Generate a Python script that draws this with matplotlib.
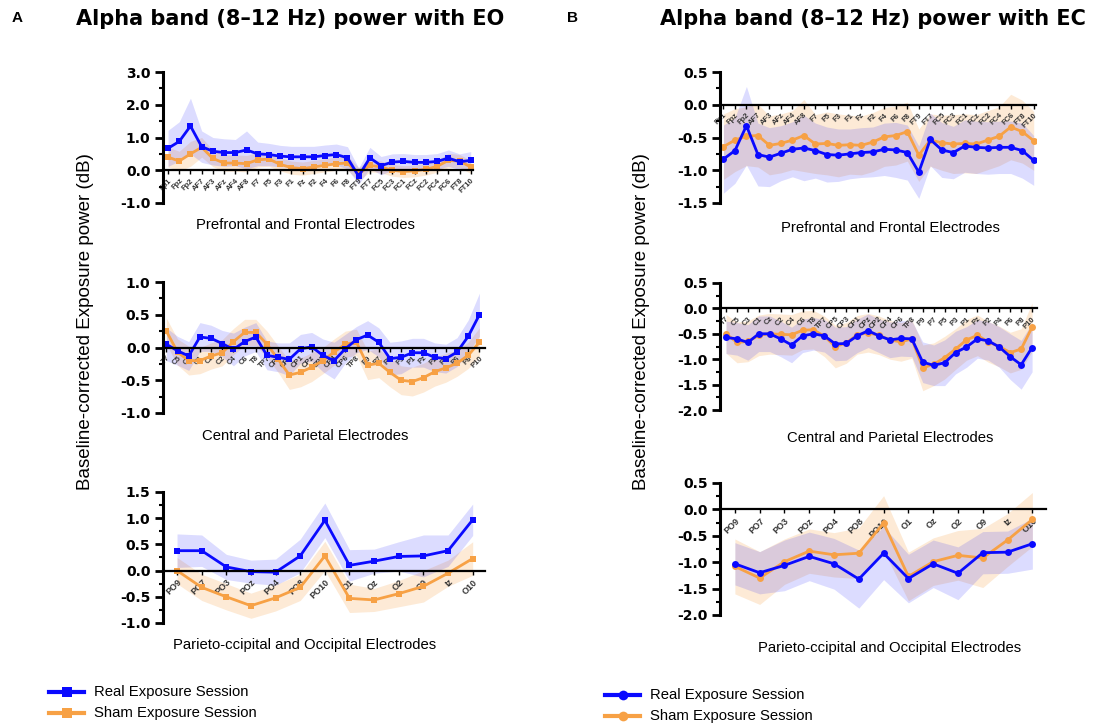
import matplotlib
matplotlib.use('Agg')
import matplotlib.pyplot as plt
from matplotlib.lines import Line2D
from matplotlib.ticker import MultipleLocator, FormatStrFormatter
import numpy as np

plt.rcParams['font.family'] = ['Liberation Sans', 'DejaVu Sans']

# electrode groups
frontal = ['Fp1', 'Fpz', 'Fp2', 'AF7', 'AF3', 'AFz', 'AF4', 'AF8', 'F7', 'F5', 'F3', 'F1', 'Fz', 'F2',
           'F4', 'F6', 'F8', 'FT9', 'FT7', 'FC5', 'FC3', 'FC1', 'FCz', 'FC2', 'FC4', 'FC6', 'FT8', 'FT10']
central = ['T7', 'C5', 'C3', 'C1', 'Cz', 'C2', 'C4', 'C6', 'T8', 'TP7', 'CP5', 'CP3', 'CP1', 'CPz', 'CP2',
           'CP4', 'CP6', 'TP8', 'P9', 'P7', 'P5', 'P3', 'P1', 'Pz', 'P2', 'P4', 'P6', 'P8', 'P10']
occipital = ['PO9', 'PO7', 'PO3', 'POz', 'PO4', 'PO8', 'PO10', 'O1', 'Oz', 'O2', 'O9', 'Iz', 'O10']

# eyes open
eo_front_real = [0.67, 0.88, 1.35, 0.72, 0.58, 0.54, 0.54, 0.62, 0.50, 0.48, 0.43, 0.41, 0.41, 0.41,
                 0.45, 0.48, 0.38, -0.18, 0.38, 0.14, 0.25, 0.27, 0.24, 0.24, 0.27, 0.37, 0.26, 0.30]
eo_front_real_sem = [0.55, 0.60, 0.85, 0.48, 0.42, 0.42, 0.40, 0.58, 0.36, 0.34, 0.33, 0.32, 0.32, 0.32,
                     0.32, 0.32, 0.34, 0.25, 0.32, 0.28, 0.25, 0.24, 0.24, 0.24, 0.24, 0.25, 0.24, 0.27]
eo_front_sham = [0.40, 0.28, 0.50, 0.70, 0.36, 0.22, 0.22, 0.20, 0.32, 0.34, 0.18, 0.08, 0.05, 0.10,
                 0.15, 0.20, 0.22, -0.12, 0.15, 0.10, 0.00, -0.04, -0.02, 0.03, 0.12, 0.30, 0.28, 0.10]
eo_front_sham_sem = [0.30, 0.30, 0.38, 0.30, 0.25, 0.25, 0.25, 0.25, 0.22, 0.22, 0.20, 0.20, 0.20, 0.20,
                     0.20, 0.20, 0.22, 0.20, 0.20, 0.18, 0.18, 0.18, 0.18, 0.18, 0.18, 0.22, 0.20, 0.20]

eo_cent_real = [0.05, -0.05, -0.13, 0.16, 0.14, 0.06, -0.03, 0.09, 0.16, -0.12, -0.15, -0.18, -0.02, 0.01,
                -0.12, -0.20, -0.02, 0.12, 0.19, 0.08, -0.17, -0.15, -0.08, -0.08, -0.15, -0.17, -0.07, 0.17, 0.50]
eo_cent_real_sem = [0.25, 0.22, 0.22, 0.22, 0.20, 0.20, 0.25, 0.22, 0.22, 0.22, 0.22, 0.25, 0.22, 0.22,
                    0.25, 0.28, 0.22, 0.20, 0.22, 0.22, 0.25, 0.25, 0.22, 0.22, 0.22, 0.22, 0.22, 0.25, 0.33]
eo_cent_sham = [0.25, -0.07, -0.20, -0.20, -0.13, -0.08, 0.09, 0.23, 0.23, 0.05, -0.18, -0.42, -0.38, -0.30,
                -0.20, -0.07, 0.05, 0.08, -0.27, -0.24, -0.38, -0.50, -0.52, -0.46, -0.37, -0.31, -0.24, -0.12, 0.08]
eo_cent_sham_sem = [0.20, 0.20, 0.22, 0.20, 0.20, 0.20, 0.20, 0.20, 0.20, 0.20, 0.20, 0.22, 0.22, 0.22,
                    0.20, 0.20, 0.20, 0.20, 0.22, 0.22, 0.22, 0.22, 0.22, 0.22, 0.22, 0.22, 0.20, 0.20, 0.22]

eo_occ_real = [0.38, 0.38, 0.07, -0.02, -0.03, 0.28, 0.96, 0.10, 0.18, 0.27, 0.28, 0.38, 0.97]
eo_occ_real_sem = [0.32, 0.30, 0.24, 0.22, 0.25, 0.32, 0.33, 0.30, 0.23, 0.28, 0.40, 0.30, 0.30]
eo_occ_sham = [0.00, -0.32, -0.50, -0.67, -0.52, -0.32, 0.28, -0.53, -0.56, -0.44, -0.30, -0.05, 0.23]
eo_occ_sham_sem = [0.25, 0.25, 0.25, 0.24, 0.25, 0.25, 0.28, 0.27, 0.22, 0.25, 0.30, 0.25, 0.32]

# eyes closed
ec_front_real = [-0.83, -0.70, -0.32, -0.76, -0.80, -0.74, -0.68, -0.66, -0.70, -0.76, -0.77, -0.75, -0.73, -0.72,
                 -0.68, -0.69, -0.73, -1.03, -0.53, -0.69, -0.73, -0.63, -0.65, -0.66, -0.65, -0.65, -0.70, -0.85]
ec_front_real_sem = [0.52, 0.50, 0.60, 0.48, 0.45, 0.42, 0.42, 0.50, 0.42, 0.42, 0.40, 0.38, 0.38, 0.38,
                     0.40, 0.42, 0.42, 0.40, 0.40, 0.42, 0.40, 0.40, 0.40, 0.40, 0.40, 0.40, 0.42, 0.38]
ec_front_sham = [-0.64, -0.54, -0.48, -0.47, -0.62, -0.59, -0.54, -0.47, -0.60, -0.59, -0.62, -0.61, -0.62, -0.57,
                 -0.49, -0.47, -0.41, -0.77, -0.54, -0.58, -0.60, -0.59, -0.60, -0.54, -0.48, -0.34, -0.41, -0.55]
ec_front_sham_sem = [0.50, 0.48, 0.45, 0.48, 0.45, 0.45, 0.45, 0.55, 0.45, 0.48, 0.48, 0.45, 0.45, 0.45,
                     0.45, 0.45, 0.45, 0.40, 0.40, 0.42, 0.45, 0.45, 0.45, 0.45, 0.45, 0.50, 0.48, 0.45]

ec_cent_real = [-0.57, -0.60, -0.67, -0.50, -0.50, -0.60, -0.72, -0.54, -0.50, -0.54, -0.70, -0.69, -0.54, -0.44,
                -0.54, -0.62, -0.59, -0.60, -1.06, -1.12, -1.07, -0.87, -0.76, -0.60, -0.64, -0.76, -0.95, -1.11, -0.77]
ec_cent_real_sem = [0.32, 0.32, 0.35, 0.35, 0.35, 0.35, 0.35, 0.33, 0.32, 0.32, 0.33, 0.33, 0.33, 0.33,
                    0.33, 0.35, 0.35, 0.35, 0.40, 0.40, 0.45, 0.42, 0.40, 0.38, 0.38, 0.40, 0.45, 0.48, 0.48]
ec_cent_sham = [-0.50, -0.67, -0.65, -0.53, -0.50, -0.51, -0.52, -0.43, -0.42, -0.55, -0.75, -0.68, -0.52, -0.48,
                -0.53, -0.62, -0.66, -0.60, -1.17, -1.10, -0.97, -0.80, -0.62, -0.53, -0.66, -0.75, -0.87, -0.80, -0.37]
ec_cent_sham_sem = [0.38, 0.40, 0.40, 0.40, 0.40, 0.40, 0.40, 0.38, 0.38, 0.40, 0.42, 0.40, 0.38, 0.38,
                    0.38, 0.38, 0.38, 0.38, 0.45, 0.42, 0.42, 0.40, 0.40, 0.40, 0.40, 0.40, 0.40, 0.40, 0.48]

ec_occ_real = [-1.03, -1.20, -1.06, -0.89, -1.03, -1.32, -0.83, -1.31, -1.03, -1.21, -0.82, -0.81, -0.65]
ec_occ_real_sem = [0.40, 0.40, 0.48, 0.46, 0.48, 0.55, 0.50, 0.46, 0.45, 0.50, 0.40, 0.40, 0.48]
ec_occ_sham = [-1.08, -1.30, -0.99, -0.79, -0.86, -0.83, -0.26, -1.27, -0.99, -0.87, -0.92, -0.58, -0.19]
ec_occ_sham_sem = [0.52, 0.50, 0.43, 0.42, 0.42, 0.48, 0.52, 0.46, 0.45, 0.47, 0.56, 0.50, 0.51]

W, H = 1097, 727
BLUE = '#0a0aff'
ORANGE = '#f7a145'
WIDE = ['DejaVu Sans']

fig = plt.figure(figsize=(W / 100, H / 100), dpi=100)


def px_axes(left, top, right, bottom):
    return fig.add_axes([left / W, 1 - bottom / H, (right - left) / W, (bottom - top) / H])


def panel(box, xlim, ylim, major, labels, real, real_sem, sham, sham_sem, marker, lab_size):
    ax = px_axes(*box)
    x = np.arange(len(labels))
    real = np.array(real)
    sham = np.array(sham)
    ax.fill_between(x, sham - np.array(sham_sem), sham + np.array(sham_sem), color=ORANGE, alpha=0.22, lw=0)
    ax.fill_between(x, real - np.array(real_sem), real + np.array(real_sem), color=BLUE, alpha=0.14, lw=0)
    ax.plot(x, sham, color=ORANGE, lw=2, marker=marker, ms=5, mew=0)
    ax.plot(x, real, color=BLUE, lw=2, marker=marker, ms=5, mew=0)
    ax.set_xlim(*xlim)
    ax.set_ylim(*ylim)
    ax.spines['top'].set_visible(False)
    ax.spines['right'].set_visible(False)
    ax.spines['left'].set_linewidth(2.2)
    ax.spines['bottom'].set_position(('data', 0))
    ax.spines['bottom'].set_linewidth(1.6)
    ax.yaxis.set_major_locator(MultipleLocator(major))
    ax.yaxis.set_minor_locator(MultipleLocator(major / 2))
    ax.yaxis.set_major_formatter(FormatStrFormatter('%.1f'))
    ax.tick_params(axis='y', which='major', length=6, width=2, labelsize=10, pad=3)
    ax.tick_params(axis='y', which='minor', length=3, width=1.5)
    for t in ax.get_yticklabels():
        t.set_fontweight('bold')
        t.set_family(WIDE)
    ax.set_xticks(x)
    ax.set_xticklabels(labels, rotation=45, ha='right', va='top', rotation_mode='anchor',
                       fontsize=lab_size, fontweight='bold', color='#333333')
    ax.tick_params(axis='x', length=3, width=1, pad=2)
    ax.patch.set_alpha(0)
    return ax


# panel A (eyes open)
panel((163, 72, 473, 203), (-0.45, 27.2), (-1.0, 3.0), 1.0, frontal,
      eo_front_real, eo_front_real_sem, eo_front_sham, eo_front_sham_sem, 's', 5.5)
panel((163, 282, 485, 413), (-0.3, 28.5), (-1.0, 1.0), 0.5, central,
      eo_cent_real, eo_cent_real_sem, eo_cent_sham, eo_cent_sham_sem, 's', 5.5)
panel((163, 492, 485, 623), (-0.57, 12.5), (-1.0, 1.5), 0.5, occipital,
      eo_occ_real, eo_occ_real_sem, eo_occ_sham, eo_occ_sham_sem, 's', 6.5)

# panel B (eyes closed)
panel((720, 72, 1036, 203), (-0.3, 27.2), (-1.5, 0.5), 0.5, frontal,
      ec_front_real, ec_front_real_sem, ec_front_sham, ec_front_sham_sem, 'o', 5.5)
panel((720, 283, 1037, 410), (-0.55, 28.45), (-2.0, 0.5), 0.5, central,
      ec_cent_real, ec_cent_real_sem, ec_cent_sham, ec_cent_sham_sem, 'o', 5.5)
panel((720, 483, 1046, 615), (-0.6, 12.55), (-2.0, 0.5), 0.5, occipital,
      ec_occ_real, ec_occ_real_sem, ec_occ_sham, ec_occ_sham_sem, 'o', 6.5)

# titles and labels
fig.text(12 / W, 1 - 18 / H, 'A', fontsize=11, fontweight='bold', va='center')
fig.text(567 / W, 1 - 18 / H, 'B', fontsize=11, fontweight='bold', va='center')
fig.text(76 / W, 1 - 19 / H, 'Alpha band (8\u201312 Hz) power with EO', fontsize=15,
         fontweight='bold', va='center', family=WIDE)
fig.text(660 / W, 1 - 19 / H, 'Alpha band (8\u201312 Hz) power with EC', fontsize=15,
         fontweight='bold', va='center', family=WIDE)
fig.text(86 / W, 1 - 322 / H, 'Baseline-corrected Exposure power (dB)', fontsize=13.5, rotation=90,
         ha='center', va='center')
fig.text(642 / W, 1 - 322 / H, 'Baseline-corrected Exposure power (dB)', fontsize=13.5, rotation=90,
         ha='center', va='center')

for cx, ys in [(305, (225, 436, 645)), (890, (228, 438, 648))]:
    fig.text(cx / W, 1 - ys[0] / H, 'Prefrontal and Frontal Electrodes', fontsize=10.7, ha='center', va='center')
    fig.text(cx / W, 1 - ys[1] / H, 'Central and Parietal Electrodes', fontsize=10.7, ha='center', va='center')
    fig.text(cx / W, 1 - ys[2] / H, 'Parieto-ccipital and Occipital Electrodes', fontsize=10.7,
             ha='center', va='center')

# legends
for lx, ly, mk in [(49, 692, 's'), (605, 695, 'o')]:
    for i, (col, name) in enumerate([(BLUE, 'Real Exposure Session'), (ORANGE, 'Sham Exposure Session')]):
        y = 1 - (ly + i * 21) / H
        fig.add_artist(Line2D([lx / W, (lx + 35) / W], [y, y], color=col, lw=3))
        fig.add_artist(Line2D([(lx + 17.5) / W], [y], color=col, marker=mk, ms=7, mew=0, lw=0))
        fig.text((lx + 45) / W, y, name, fontsize=10.7, va='center')

fig.savefig('out.png', dpi=100)
